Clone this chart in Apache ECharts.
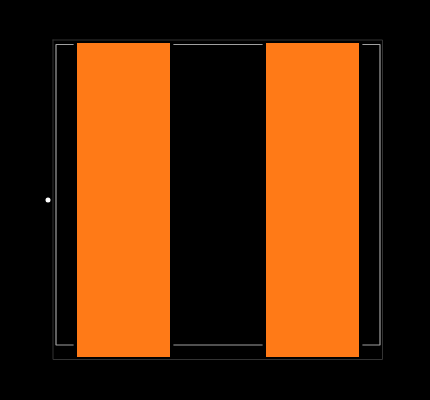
<!DOCTYPE html>
<html><head><meta charset="utf-8">
<style>html,body{margin:0;padding:0;background:#000}#c{width:430px;height:400px}</style>
<script src="https://cdn.jsdelivr.net/npm/echarts@6/dist/echarts.min.js"></script>
</head><body><div id="c"></div>
<script>
const courtyard = [[53,40],[382.5,40],[382.5,359.5],[53,359.5],[53,40]];
const silkLeft = [[73,44.5],[56,44.5],[56,345],[73,345]];
const silkTopMid = [[174,44.5],[262,44.5]];
const silkBottomMid = [[174,345],[262,345]];
const silkRight = [[363,44.5],[380,44.5],[380,345],[363,345]];
const pads = [[77,43,170,357],[266,43,359,357]];
const pinDot = [[48,200]];

const line = (data, color, width, z) => ({
  type:'line', data, symbol:'none', silent:true, z,
  lineStyle:{color, width, cap:'square'}, animation:false
});
const chart = echarts.init(document.getElementById('c'), null, {renderer:'canvas'});
chart.setOption({
  backgroundColor:'#000',
  animation:false,
  grid:{left:0,right:0,top:0,bottom:0},
  xAxis:{type:'value',min:0,max:430,show:false},
  yAxis:{type:'value',min:0,max:400,inverse:true,show:false},
  series:[
    line(courtyard,'#333333',1,1),
    line(silkLeft,'#a0a0a0',1.2,2),
    line(silkTopMid,'#a0a0a0',1.2,2),
    line(silkBottomMid,'#a0a0a0',1.2,2),
    line(silkRight,'#a0a0a0',1.2,2),
    {type:'custom',data:pads,z:3,silent:true,
     encode:{x:[0,2],y:[1,3]},
     renderItem(p,api){
       const a=api.coord([api.value(0),api.value(1)]);
       const b=api.coord([api.value(2),api.value(3)]);
       return {type:'rect',shape:{x:a[0],y:a[1],width:b[0]-a[0],height:b[1]-a[1]},style:{fill:'#ff7a17'}};
     }},
    {type:'scatter',data:pinDot,symbol:'circle',symbolSize:5,z:4,silent:true,itemStyle:{color:'#ffffff',opacity:1}}
  ]
});
</script></body></html>
